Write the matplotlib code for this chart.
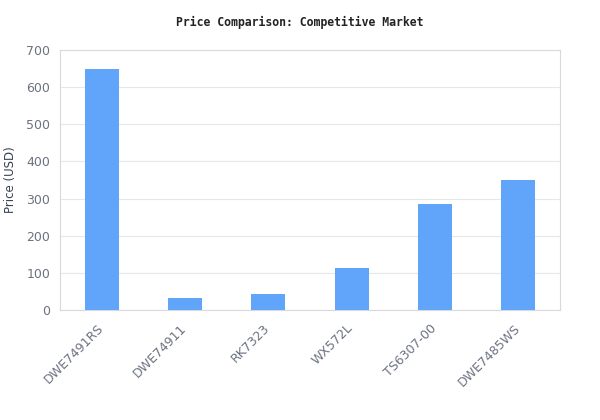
import matplotlib.pyplot as plt
from matplotlib.transforms import ScaledTranslation

models = ['DWE7491RS', 'DWE74911', 'RK7323', 'WX572L', 'TS6307-00', 'DWE7485WS']
prices = [649, 32, 43, 113, 285, 350]

fig = plt.figure(figsize=(6, 4.2), dpi=100)
ax = fig.add_axes([0.1, 0.262, 0.8333, 0.619])

ax.bar(range(len(models)), prices, width=0.41, color='#60a5fa', zorder=3)

ax.set_xlim(-0.5, len(models) - 0.5)
ax.set_ylim(0, 700)
ax.set_yticks(range(0, 701, 100))
ax.set_xticks(range(len(models)))
ax.set_xticklabels(models, rotation=45, ha='right', rotation_mode='anchor')

ax.grid(axis='y', color='#e5e7eb', linewidth=0.8, zorder=0)
for s in ax.spines.values():
    s.set_color('#d9d9d9')
ax.tick_params(length=0, colors='#6b7280', labelsize=9, pad=7)

# nudge the rotated labels a little left, like the reference
shift = ScaledTranslation(-5 / 100, -2 / 100, fig.dpi_scale_trans)
for lbl in ax.get_xticklabels():
    lbl.set_transform(lbl.get_transform() + shift)

ax.set_ylabel('Price (USD)', color='#374151', fontsize=8.5, va='center')
ax.yaxis.set_label_coords(-0.1, 0.5)
fig.suptitle('Price Comparison: Competitive Market', y=0.962, fontsize=8.3,
             fontweight='bold', family='DejaVu Sans Mono', color='#222222')

fig.savefig('out.png', dpi=100)
